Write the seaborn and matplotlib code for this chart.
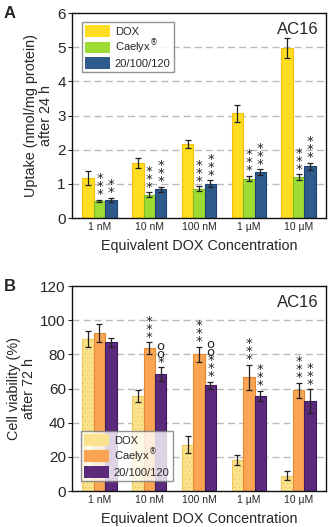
import numpy as np
import pandas as pd
import matplotlib
matplotlib.use("Agg")
import matplotlib.pyplot as plt
import seaborn as sns

categories = ["1 nM", "10 nM", "100 nM", "1 µM", "10 µM"]
groups = ["DOX", "Caelyx$^{®}$", "20/100/120"]

# Panel A: uptake (nmol/mg protein) after 24 h
uptake_dox = [1.18, 1.60, 2.17, 3.07, 4.98]
uptake_caelyx = [0.50, 0.68, 0.86, 1.15, 1.20]
uptake_nano = [0.53, 0.84, 1.00, 1.35, 1.52]
uptake_dox_err = [0.20, 0.15, 0.12, 0.25, 0.30]
uptake_caelyx_err = [0.04, 0.07, 0.07, 0.08, 0.08]
uptake_nano_err = [0.06, 0.08, 0.10, 0.08, 0.10]
uptake_caelyx_sig = ["***", "***", "***", "***", "***"]
uptake_nano_sig = ["**", "***", "***", "***", "***"]

# Panel B: cell viability (%) after 72 h
viab_dox = [89, 55.5, 27, 18, 9]
viab_caelyx = [92.5, 83.5, 80, 66.5, 59]
viab_nano = [87, 68.5, 62, 55.5, 52.5]
viab_dox_err = [4.5, 3.5, 5, 3, 2.5]
viab_caelyx_err = [5.5, 3.5, 4.5, 7.5, 4.5]
viab_nano_err = [2.5, 4, 2, 3, 7]
viab_caelyx_sig = ["", "***", "***", "***", "***"]
viab_nano_sig = ["", "*oo", "***oo", "***", "***"]

sns.set_theme(style="white")
plt.rcParams['font.family'] = ['Liberation Sans', 'DejaVu Sans']

fig = plt.figure(figsize=(3.29, 5.27), dpi=100)
axA = fig.add_axes([0.219, 0.5863, 0.772, 0.389])
axB = fig.add_axes([0.219, 0.0683, 0.772, 0.389])


def make_df(vals):
    rows = []
    for g, v in zip(groups, vals):
        for c, x in zip(categories, v):
            rows.append({"conc": c, "group": g, "value": x})
    return pd.DataFrame(rows)


def draw_sig(ax, x, y, s):
    # symbols stacked vertically, first character at the bottom
    txt = "\n".join(reversed(list(s)))
    ax.annotate(txt, xy=(x, y), xytext=(0, -1.0), textcoords="offset points",
                ha="center", va="bottom", fontsize=9.5, color="#222222",
                family="DejaVu Sans", linespacing=0.5, zorder=4)


def panel(ax, vals, errs, sigs, colors, edges, ymax, yticks, ylabel, letter,
          legend_loc, anchor, hatch_first=False):
    df = make_df(vals)
    sns.barplot(data=df, x="conc", y="value", hue="group", order=categories,
                hue_order=groups, palette=colors, errorbar=None, width=0.69,
                ax=ax, saturation=1, linewidth=0.8)
    ax.set_ylim(0, ymax)
    ax.set_xlim(-0.55, 4.55)
    bar_conts = list(ax.containers)
    for i, cont in enumerate(bar_conts):
        for j, bar in enumerate(cont.patches):
            bar.set_edgecolor(edges[i])
            bar.set_zorder(2)
            if hatch_first and i == 0:
                bar.set_hatch("....")
            xc = bar.get_x() + bar.get_width() / 2
            ax.errorbar(xc, vals[i][j], yerr=errs[i][j], fmt="none",
                        ecolor="#222222", elinewidth=0.9, capsize=2.2,
                        capthick=0.9, zorder=3)
            if i > 0:
                s = sigs[i - 1][j]
                if s:
                    draw_sig(ax, xc, vals[i][j] + errs[i][j], s)
    ax.set_yticks(yticks)
    ax.tick_params(axis="y", labelsize=11, length=3, width=0.8, left=True,
                   pad=1.5)
    ax.tick_params(axis="x", labelsize=7.5, length=0, pad=3)
    for t in yticks[1:-1]:
        ax.axhline(t, color="#BBBBBB", lw=1.0, ls=(0, (5, 3)), zorder=1)
    for sp in ax.spines.values():
        sp.set_color("#111111")
        sp.set_linewidth(1.0)
    ax.set_xlabel("Equivalent DOX Concentration", fontsize=10.4, labelpad=5)
    ax.set_ylabel(ylabel, fontsize=10.4, labelpad=3, linespacing=1.1)
    ax.text(0.97, 0.955, "AC16", transform=ax.transAxes, ha="right",
            va="top", fontsize=12)
    ax.text(-0.27, 1.0, letter, transform=ax.transAxes, ha="left",
            va="center", fontsize=12, fontweight="bold")
    leg = ax.legend(loc=legend_loc, fontsize=8, frameon=True, fancybox=False,
                    edgecolor="#777777", handlelength=2.25, handleheight=1.2,
                    handletextpad=0.4, borderpad=0.3, labelspacing=0.1,
                    borderaxespad=0, bbox_to_anchor=anchor)
    leg.get_frame().set_linewidth(1.0)
    for h in leg.legend_handles:
        h.set_edgecolor("none")


panel(axA,
      [uptake_dox, uptake_caelyx, uptake_nano],
      [uptake_dox_err, uptake_caelyx_err, uptake_nano_err],
      [uptake_caelyx_sig, uptake_nano_sig],
      ["#FFDE21", "#9EDB33", "#2E5A8C"],
      ["#F5BE10", "#7BBF22", "#1F4274"],
      6, [0, 1, 2, 3, 4, 5, 6],
      "Uptake (nmol/mg protein)\nafter 24 h", "A", "upper left",
      (0.039, 0.956))

plt.rcParams['hatch.color'] = "#F2CF60"
plt.rcParams['hatch.linewidth'] = 0.4
panel(axB,
      [viab_dox, viab_caelyx, viab_nano],
      [viab_dox_err, viab_caelyx_err, viab_nano_err],
      [viab_caelyx_sig, viab_nano_sig],
      ["#FAE38C", "#F9A553", "#5B2A7C"],
      ["#EFC85A", "#E58A30", "#3E1A5C"],
      120, [0, 20, 40, 60, 80, 100, 120],
      "Cell viability (%)\nafter 72 h", "B", "lower left",
      (0.035, 0.049), hatch_first=True)

fig.savefig("out.png", dpi=100)
